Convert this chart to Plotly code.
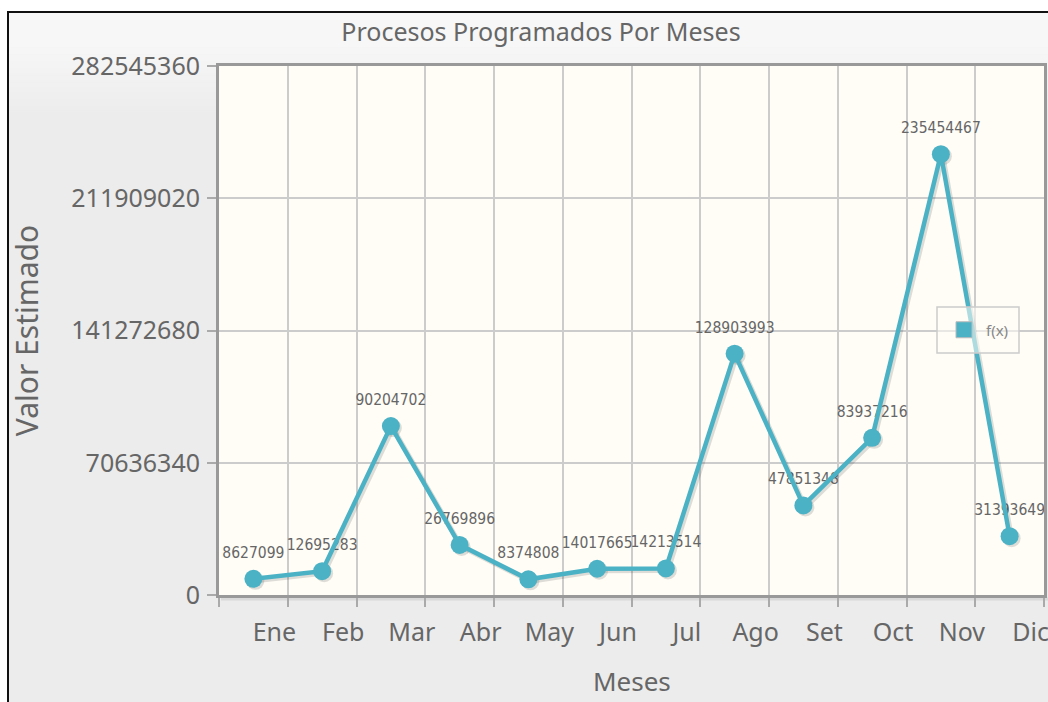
import plotly.graph_objects as go

# ---- data ----
months = ["Ene", "Feb", "Mar", "Abr", "May", "Jun", "Jul", "Ago", "Set", "Oct", "Nov", "Dic"]
values = [8627099, 12695283, 90204702, 26769896, 8374808, 14017665, 14213514,
          128903993, 47851348, 83937216, 235454467, 31393649]
y_tick_vals = [0, 70636340, 141272680, 211909020, 282545360]
y_tick_text = ["0", "70636340", "141272680", "211909020", "282545360"]
series_name = "f(x)"
chart_title = "Procesos Programados Por Meses"
x_title = "Meses"
y_title = "Valor Estimado"

# ---- layout geometry (pixels) ----
W, H = 1048, 702
L, R, T, B = 219, 4, 66, 107
PW, PH = W - L - R, H - T - B
y_min, y_max = y_tick_vals[0], y_tick_vals[-1]
n = len(months)

def px_x(p):
    return (p - L) / PW

def px_y(p):
    return (H - B - p) / PH

LINE = "#4bb2c5"
TXT = "#666666"
FONT = "Noto Sans, Open Sans, sans-serif"
NARROW = "Liberation Sans Narrow, DejaVu Sans Condensed, Noto Sans, sans-serif"

# shadow offset (pixels) converted into axis range shifts
sdx, sdy = 2.0, 2.0
xr = [-0.5, n - 0.5]
x_shift = sdx * n / PW
y_shift = sdy * (y_max - y_min) / PH

fig = go.Figure()

# data labels (base axes, under lines)
fig.add_trace(go.Scatter(
    x=months, y=values, mode="markers+text",
    text=[str(v) for v in values], textposition="top center",
    textfont=dict(family=NARROW, size=15.5, color=TXT),
    marker=dict(size=26, color="rgba(0,0,0,0)"),
    cliponaxis=False, showlegend=False, hoverinfo="skip",
    xaxis="x", yaxis="y"))

# shadow
fig.add_trace(go.Scatter(
    x=months, y=values, mode="lines+markers",
    line=dict(color="rgba(0,0,0,0.13)", width=5),
    marker=dict(size=18, color="rgba(0,0,0,0.13)"),
    showlegend=False, hoverinfo="skip", cliponaxis=False,
    xaxis="x2", yaxis="y2"))

# main series
fig.add_trace(go.Scatter(
    x=months, y=values, mode="lines+markers", name=series_name,
    line=dict(color=LINE, width=4.5),
    marker=dict(size=18, color=LINE),
    showlegend=False, cliponaxis=False,
    xaxis="x3", yaxis="y3"))

# legend entry
fig.add_trace(go.Scatter(
    x=[None], y=[None], mode="markers", name=series_name,
    marker=dict(symbol="square", size=16, color=LINE, line=dict(color="#bbbbbb", width=1)),
    xaxis="x3", yaxis="y3"))

shapes = []
# outer frame background + gradient
g_top, g_bot = 45, 115
steps = 30
c0, c1 = 0xf7, 0xec
shapes.append(dict(type="rect", xref="paper", yref="paper",
                   x0=px_x(8), x1=px_x(W + 20), y0=px_y(12), y1=px_y(H + 20),
                   fillcolor="#ececec", line=dict(width=0), layer="below"))
shapes.append(dict(type="rect", xref="paper", yref="paper",
                   x0=px_x(8), x1=px_x(W + 20), y0=px_y(12), y1=px_y(g_top),
                   fillcolor="#f7f7f7", line=dict(width=0), layer="below"))
for i in range(steps):
    a = g_top + (g_bot - g_top) * i / steps
    b = g_top + (g_bot - g_top) * (i + 1) / steps + 0.5
    c = int(round(c0 + (c1 - c0) * (i + 0.5) / steps))
    col = "#%02x%02x%02x" % (c, c, c)
    shapes.append(dict(type="rect", xref="paper", yref="paper",
                       x0=px_x(8), x1=px_x(W + 20), y0=px_y(a), y1=px_y(b),
                       fillcolor=col, line=dict(width=0), layer="below"))
# plot-area background (over the frame gradient)
shapes.append(dict(type="rect", xref="paper", yref="paper",
                   x0=0, x1=1, y0=0, y1=1,
                   fillcolor="#fffdf6", line=dict(width=0), layer="below"))
# black frame lines
shapes.append(dict(type="line", xref="paper", yref="paper",
                   x0=px_x(7), x1=px_x(W + 20), y0=px_y(12), y1=px_y(12),
                   line=dict(color="#111111", width=2)))
shapes.append(dict(type="line", xref="paper", yref="paper",
                   x0=px_x(8), x1=px_x(8), y0=px_y(11), y1=px_y(H + 20),
                   line=dict(color="#111111", width=2)))
# border shadow below bottom axis line
shapes.append(dict(type="line", xref="paper", yref="paper",
                   x0=px_x(L + 2), x1=px_x(W), y0=px_y(H - B + 4), y1=px_y(H - B + 4),
                   line=dict(color="rgba(0,0,0,0.08)", width=3), layer="below"))
# legend frame
shapes.append(dict(type="rect", xref="paper", yref="paper",
                   x0=px_x(937), x1=px_x(1019), y0=px_y(307), y1=px_y(353),
                   fillcolor="rgba(255,253,246,0.55)", line=dict(color="#cccccc", width=1.5),
                   layer="above"))

axis_common = dict(showline=True, mirror=True, linecolor="#999999", linewidth=3,
                   gridcolor="#cccccc", gridwidth=1.5, zeroline=False, automargin=False)

fig.update_layout(
    width=W, height=H,
    margin=dict(l=L, r=R, t=T, b=B, pad=0),
    paper_bgcolor="#ffffff", plot_bgcolor="#fffdf6",
    template="none",
    font=dict(family=FONT, color=TXT),
    title=dict(text=chart_title, x=541 / W, xref="container",
               xanchor="center", y=1 - 32 / H, yanchor="middle",
               font=dict(family=FONT, size=25, color=TXT)),
    xaxis=dict(type="category", categoryorder="array", categoryarray=months,
               range=xr, tickson="boundaries", ticks="outside", ticklen=9,
               tickwidth=2, tickcolor="#aaaaaa", showgrid=True,
               ticklabelshift=21, ticklabelstandoff=13, tickfont=dict(size=25, color=TXT),
               **axis_common),
    yaxis=dict(range=[y_min, y_max], tickmode="array", tickvals=y_tick_vals,
               ticktext=y_tick_text, ticks="outside", ticklen=9, tickwidth=2,
               tickcolor="#aaaaaa", showgrid=True, tickfont=dict(size=25, color=TXT),
               ticklabelstandoff=2,
               title=dict(text=y_title, font=dict(size=30, color=TXT), standoff=24),
               **axis_common),
    xaxis2=dict(type="category", categoryorder="array", categoryarray=months,
                range=[xr[0] - x_shift, xr[1] - x_shift], overlaying="x",
                visible=False, showgrid=False, automargin=False),
    yaxis2=dict(range=[y_min + y_shift, y_max + y_shift], overlaying="y",
                visible=False, showgrid=False, automargin=False),
    xaxis3=dict(type="category", categoryorder="array", categoryarray=months,
                range=xr, overlaying="x", visible=False, showgrid=False, automargin=False),
    yaxis3=dict(range=[y_min, y_max], overlaying="y", visible=False,
                showgrid=False, automargin=False),
    legend=dict(x=px_x(942), y=px_y(330), xanchor="left", yanchor="middle",
                bgcolor="rgba(0,0,0,0)", borderwidth=0,
                font=dict(family=FONT, size=15, color="#888888"), itemwidth=34),
    annotations=[dict(text=x_title, xref="paper", yref="paper", x=0.5, y=px_y(681),
                      xanchor="center", yanchor="middle", showarrow=False, borderpad=0,
                      font=dict(family=FONT, size=26, color=TXT))],
    shapes=shapes,
    showlegend=True,
)

fig.write_html("out.html", config={"displayModeBar": False},
               post_script="document.body.style.margin='0';document.body.style.padding='0';")
